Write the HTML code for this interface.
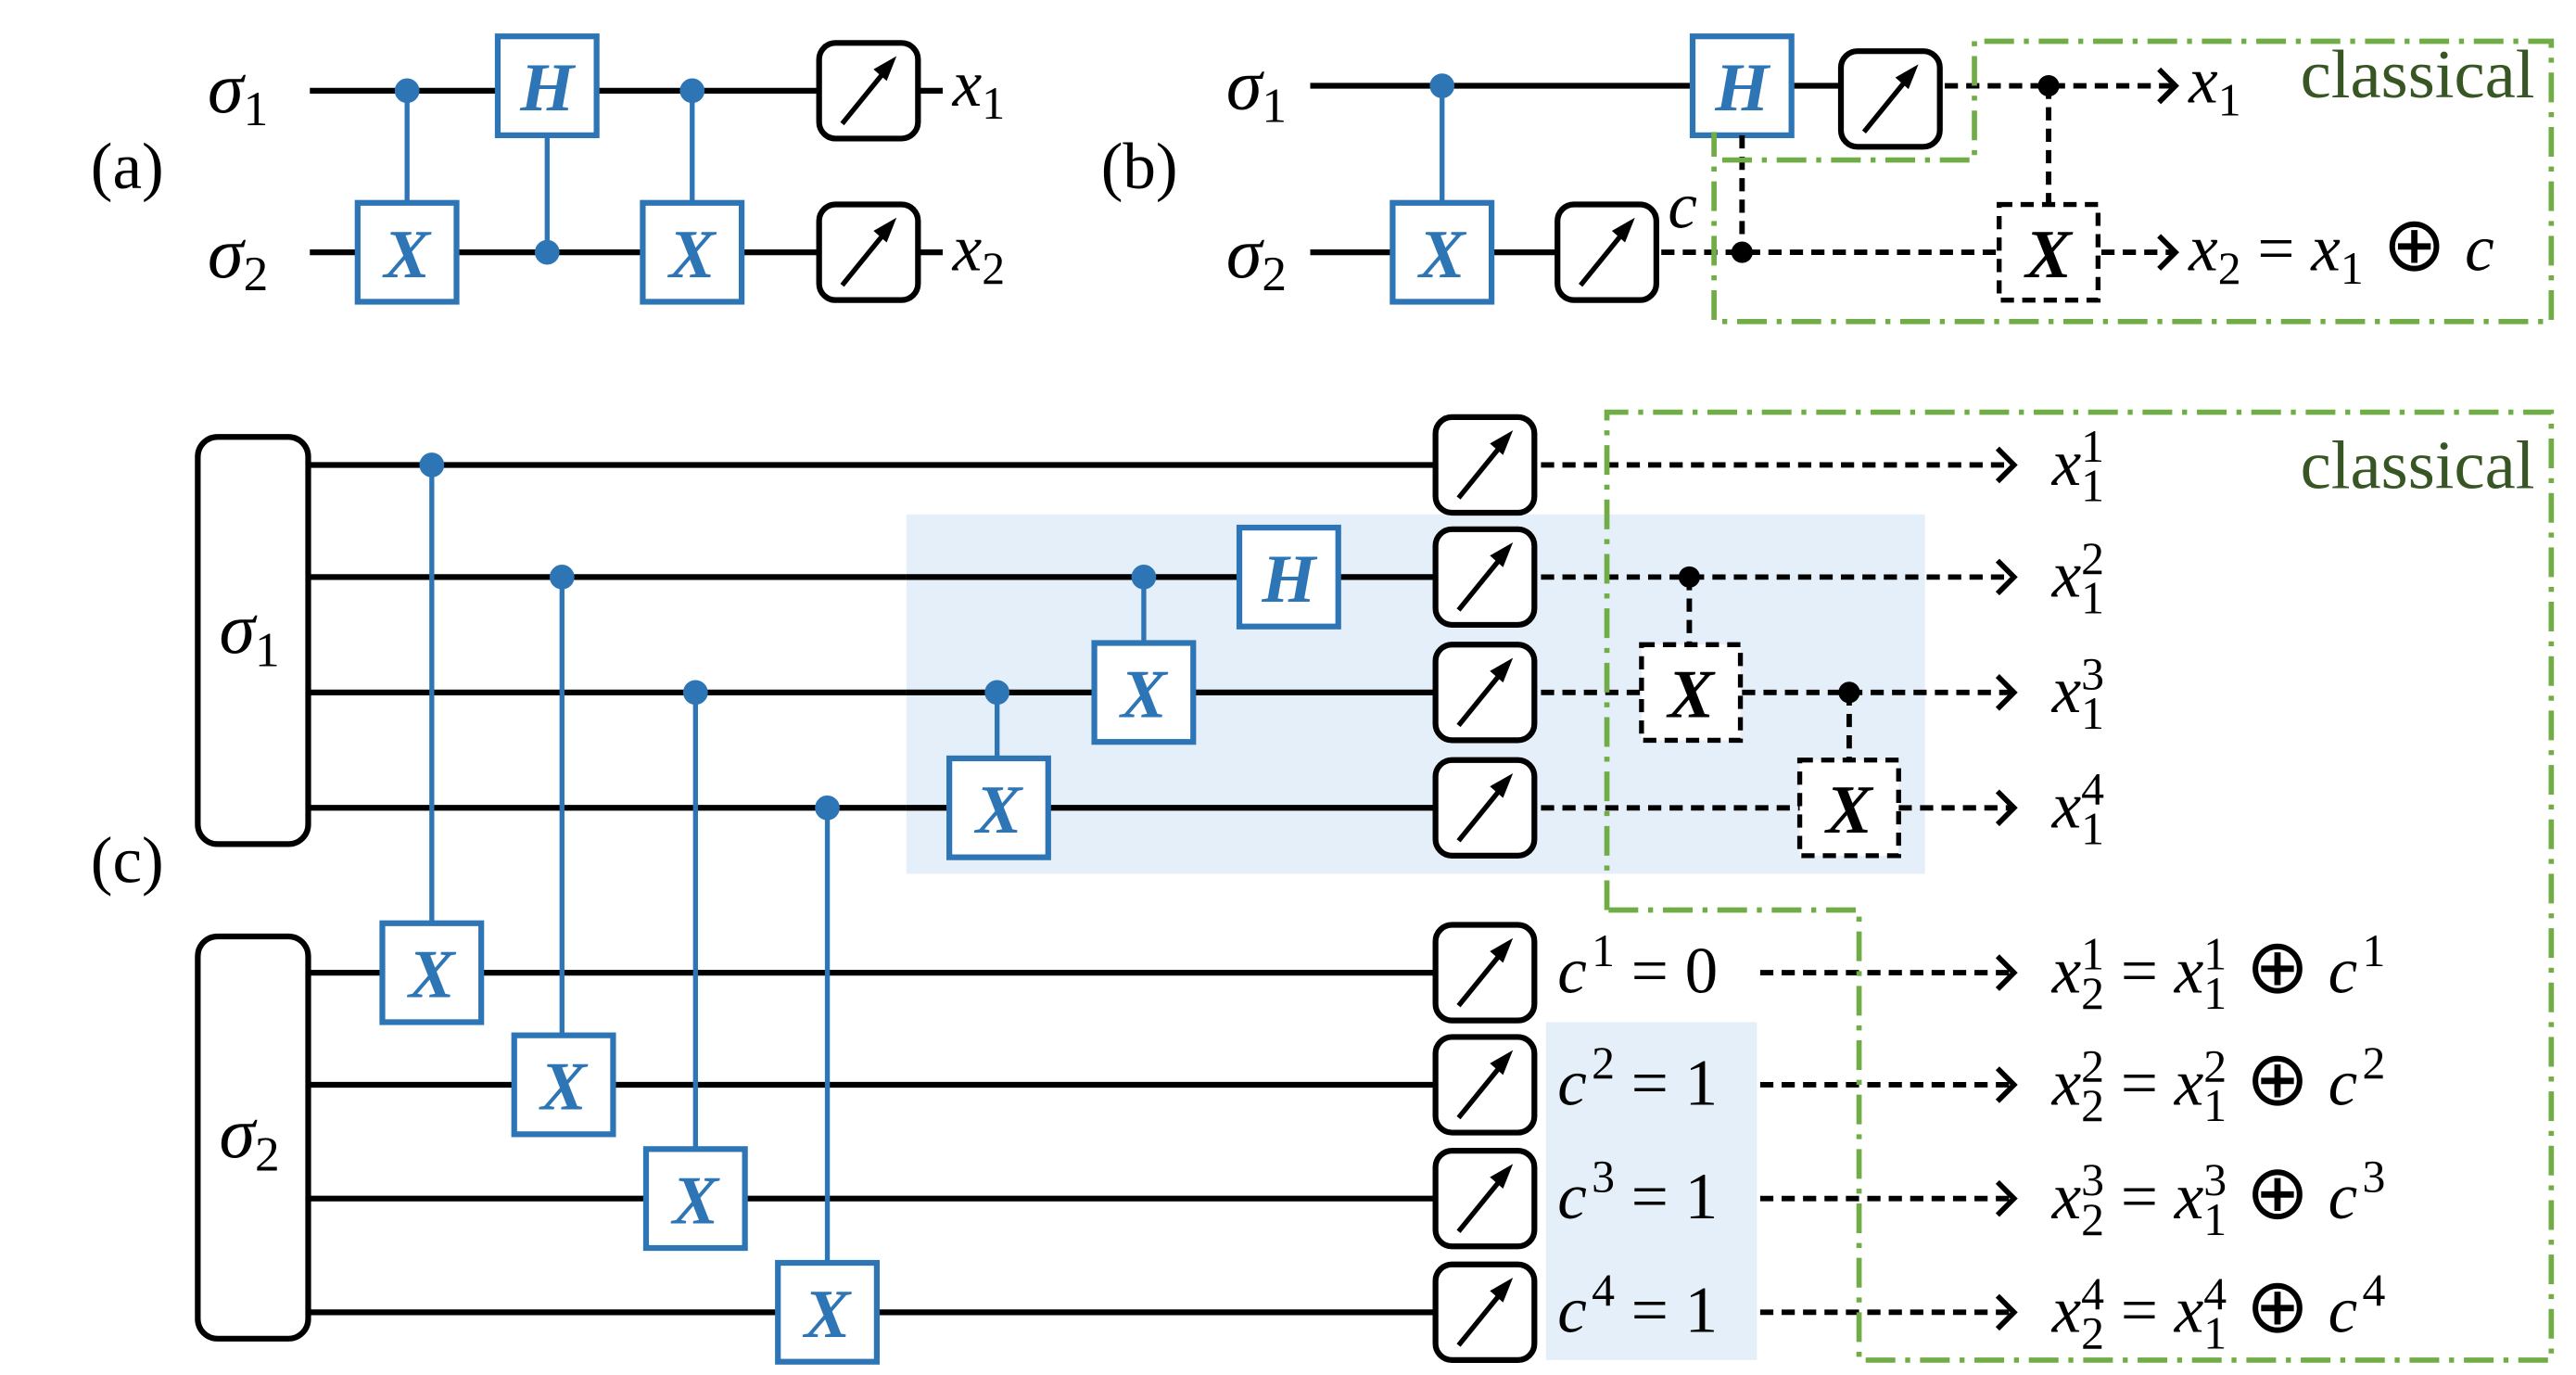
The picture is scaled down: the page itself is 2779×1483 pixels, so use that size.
<!DOCTYPE html>
<html><head><meta charset="utf-8"><style>
html,body{margin:0;padding:0;background:#fff}
svg{display:block}
text{font-family:"Liberation Serif",serif}
.it{font-style:italic}
.g{font-weight:bold;font-style:italic;fill:#2e75b6;font-size:42px}
.gb{font-weight:bold;font-style:italic;fill:#000;font-size:42px}
.n{font-style:normal}
</style></head><body>
<svg width="2779" height="1483" viewBox="0 0 1563 834" xmlns="http://www.w3.org/2000/svg">
<defs>
<g id="m"><rect x="-30" y="-29" width="60" height="58" rx="10" fill="#fff" stroke="#000" stroke-width="3.5"/>
<line x1="-16" y1="20" x2="10" y2="-12" stroke="#000" stroke-width="3"/>
<polygon points="17,-21 3,-13 11,-6" fill="#000"/></g>
<g id="xb"><rect x="-30" y="-30" width="60" height="60" fill="#fff" stroke="#2e75b6" stroke-width="3.5"/></g>
<g id="xd"><rect x="-30" y="-29" width="60" height="58" fill="#fff" stroke="#000" stroke-width="3" stroke-dasharray="8,5"/></g>
<g id="ar"><polyline points="-10,-10 0,0 -10,10" fill="none" stroke="#000" stroke-width="3.2"/></g>
</defs>
<g stroke="#000" stroke-width="3.5">
<line x1="188" y1="55" x2="572" y2="55"/><line x1="188" y1="153" x2="572" y2="153"/>
<line x1="795" y1="52" x2="1117" y2="52"/><line x1="795" y1="153" x2="945" y2="153"/>
<line x1="187" y1="282" x2="870" y2="282"/><line x1="187" y1="350" x2="870" y2="350"/>
<line x1="187" y1="420" x2="870" y2="420"/><line x1="187" y1="490" x2="870" y2="490"/>
<line x1="187" y1="590" x2="870" y2="590"/><line x1="187" y1="658" x2="870" y2="658"/>
<line x1="187" y1="727" x2="870" y2="727"/><line x1="187" y1="796" x2="870" y2="796"/>
</g>
<rect x="550" y="312" width="618" height="218" fill="#deebf7" opacity="0.8"/>
<rect x="938" y="620" width="128" height="205" fill="#deebf7" opacity="0.8"/>
<g stroke="#000" stroke-width="3.5">
<line x1="550" y1="350" x2="870" y2="350"/><line x1="550" y1="420" x2="870" y2="420"/><line x1="550" y1="490" x2="870" y2="490"/>
</g>
<g stroke="#2e75b6" stroke-width="3" fill="#2e75b6">
<line x1="247" y1="55" x2="247" y2="122"/><circle cx="247" cy="55" r="6"/>
<line x1="332" y1="82" x2="332" y2="153"/><circle cx="332" cy="153" r="6"/>
<line x1="420" y1="55" x2="420" y2="122"/><circle cx="420" cy="55" r="6"/>
<line x1="875" y1="52" x2="875" y2="122"/><circle cx="875" cy="52" r="6"/>
<line x1="262" y1="282" x2="262" y2="560"/><circle cx="262" cy="282" r="6"/>
<line x1="341" y1="350" x2="341" y2="628"/><circle cx="341" cy="350" r="6"/>
<line x1="422" y1="420" x2="422" y2="697"/><circle cx="422" cy="420" r="6"/>
<line x1="502" y1="490" x2="502" y2="766"/><circle cx="502" cy="490" r="6"/>
<line x1="605" y1="420" x2="605" y2="460"/><circle cx="605" cy="420" r="6"/>
<line x1="694" y1="350" x2="694" y2="390"/><circle cx="694" cy="350" r="6"/>
</g>
<use href="#xb" x="247" y="153"/><text class="g" x="247" y="168" text-anchor="middle">X</text>
<use href="#xb" x="332" y="52"/><text class="g" x="332" y="67" text-anchor="middle">H</text>
<use href="#xb" x="420" y="153"/><text class="g" x="420" y="168" text-anchor="middle">X</text>
<use href="#xb" x="875" y="153"/><text class="g" x="875" y="168" text-anchor="middle">X</text>
<use href="#xb" x="1057" y="52"/><text class="g" x="1057" y="67" text-anchor="middle">H</text>
<use href="#xb" x="262" y="590"/><text class="g" x="262" y="605" text-anchor="middle">X</text>
<use href="#xb" x="342" y="658"/><text class="g" x="342" y="673" text-anchor="middle">X</text>
<use href="#xb" x="422" y="727"/><text class="g" x="422" y="742" text-anchor="middle">X</text>
<use href="#xb" x="502" y="796"/><text class="g" x="502" y="811" text-anchor="middle">X</text>
<use href="#xb" x="606" y="490"/><text class="g" x="606" y="505" text-anchor="middle">X</text>
<use href="#xb" x="694" y="420"/><text class="g" x="694" y="435" text-anchor="middle">X</text>
<use href="#xb" x="782" y="350"/><text class="g" x="782" y="365" text-anchor="middle">H</text>
<use href="#m" x="527" y="55"/><use href="#m" x="527" y="153"/>
<use href="#m" x="1147" y="60"/><use href="#m" x="975" y="153"/>
<use href="#m" x="901" y="282"/><use href="#m" x="901" y="350"/><use href="#m" x="901" y="420"/><use href="#m" x="901" y="490"/>
<use href="#m" x="901" y="590"/><use href="#m" x="901" y="658"/><use href="#m" x="901" y="727"/><use href="#m" x="901" y="796"/>
<rect x="120" y="265" width="67" height="247" rx="12" fill="#fff" stroke="#000" stroke-width="3.5"/>
<rect x="120" y="568" width="67" height="244" rx="12" fill="#fff" stroke="#000" stroke-width="3.5"/>
<g stroke="#000" stroke-width="3.3" stroke-dasharray="8,5" fill="none">
<line x1="1180" y1="52" x2="1318" y2="52"/>
<line x1="1008" y1="153" x2="1212" y2="153"/>
<line x1="1275" y1="153" x2="1318" y2="153"/>
<line x1="1057" y1="82" x2="1057" y2="153"/>
<line x1="1243" y1="52" x2="1243" y2="123"/>
<line x1="935" y1="282" x2="1220" y2="282"/>
<line x1="935" y1="350" x2="1220" y2="350"/>
<line x1="935" y1="420" x2="995" y2="420"/><line x1="1057" y1="420" x2="1220" y2="420"/>
<line x1="935" y1="490" x2="1092" y2="490"/><line x1="1152" y1="490" x2="1220" y2="490"/>
<line x1="1025" y1="350" x2="1025" y2="391"/>
<line x1="1122" y1="420" x2="1122" y2="461"/>
<line x1="1068" y1="590" x2="1220" y2="590"/>
<line x1="1068" y1="658" x2="1220" y2="658"/>
<line x1="1068" y1="727" x2="1220" y2="727"/>
<line x1="1068" y1="796" x2="1220" y2="796"/>
</g>
<g fill="#000"><circle cx="1243" cy="52" r="6.5"/><circle cx="1057" cy="153" r="6.5"/><circle cx="1025" cy="350" r="6.5"/><circle cx="1122" cy="420" r="6.5"/></g>
<use href="#xd" x="1243" y="153"/><text class="gb" x="1243" y="168" text-anchor="middle">X</text>
<use href="#xd" x="1026" y="420"/><text class="gb" x="1026" y="435" text-anchor="middle">X</text>
<use href="#xd" x="1122" y="490"/><text class="gb" x="1122" y="505" text-anchor="middle">X</text>
<use href="#ar" x="1320" y="52"/><use href="#ar" x="1320" y="153"/>
<use href="#ar" x="1222" y="282"/><use href="#ar" x="1222" y="350"/><use href="#ar" x="1222" y="420"/><use href="#ar" x="1222" y="490"/>
<use href="#ar" x="1222" y="590"/><use href="#ar" x="1222" y="658"/><use href="#ar" x="1222" y="727"/><use href="#ar" x="1222" y="796"/>
<g stroke="#70ad47" stroke-width="3.2" fill="none" stroke-dasharray="18,6,3,6">
<polyline points="1045,97 1198,97 1198,25 1548,25 1548,195 1040,195 1040,80"/>
<polyline points="975,552 975,250 1548,250 1548,825 1128,825 1128,552 975,552"/>
</g>
<g fill="#375623" font-size="42"><text x="1538" y="59" text-anchor="end">classical</text><text x="1538" y="296" text-anchor="end">classical</text></g>
<g font-size="40">
<text x="55" y="114">(a)</text><text x="668" y="114">(b)</text><text x="55" y="535">(c)</text>
</g>
<g font-size="44">
<text class="it" x="126" y="68">σ<tspan font-size="30" class="n" dy="8">1</tspan></text>
<text class="it" x="126" y="168">σ<tspan font-size="30" class="n" dy="8">2</tspan></text>
<text class="it" x="744" y="66">σ<tspan font-size="30" class="n" dy="8">1</tspan></text>
<text class="it" x="744" y="168">σ<tspan font-size="30" class="n" dy="8">2</tspan></text>
<text class="it" x="133" y="396">σ<tspan font-size="30" class="n" dy="8">1</tspan></text>
<text class="it" x="133" y="702">σ<tspan font-size="30" class="n" dy="8">2</tspan></text>
</g>
<g font-size="40">
<text class="it" x="578" y="64">x<tspan font-size="28" class="n" dy="8">1</tspan></text>
<text class="it" x="578" y="164">x<tspan font-size="28" class="n" dy="8">2</tspan></text>
<text class="it" x="1328" y="62">x<tspan font-size="28" class="n" dy="8">1</tspan></text>
<text class="it" x="1328" y="164">x<tspan font-size="28" class="n" dy="8">2</tspan><tspan class="n" dy="-8"> = </tspan>x<tspan font-size="28" class="n" dy="8">1</tspan><tspan class="n" dy="-8" font-size="46"> ⊕ </tspan>c</text>
<text class="it" x="1012" y="138">c</text>
</g>
<g font-size="40">
<text class="it" x="1245" y="294">x<tspan font-size="28" class="n" dy="10">1</tspan><tspan font-size="28" class="n" dx="-14" dy="-24">1</tspan></text>
<text class="it" x="1245" y="362">x<tspan font-size="28" class="n" dy="10">1</tspan><tspan font-size="28" class="n" dx="-14" dy="-24">2</tspan></text>
<text class="it" x="1245" y="432">x<tspan font-size="28" class="n" dy="10">1</tspan><tspan font-size="28" class="n" dx="-14" dy="-24">3</tspan></text>
<text class="it" x="1245" y="502">x<tspan font-size="28" class="n" dy="10">1</tspan><tspan font-size="28" class="n" dx="-14" dy="-24">4</tspan></text>
<text class="it" x="945" y="602">c<tspan font-size="28" class="n" dx="3" dy="-16">1</tspan><tspan class="n" dy="16"> = 0</tspan></text>
<text class="it" x="945" y="670">c<tspan font-size="28" class="n" dx="3" dy="-16">2</tspan><tspan class="n" dy="16"> = 1</tspan></text>
<text class="it" x="945" y="739">c<tspan font-size="28" class="n" dx="3" dy="-16">3</tspan><tspan class="n" dy="16"> = 1</tspan></text>
<text class="it" x="945" y="808">c<tspan font-size="28" class="n" dx="3" dy="-16">4</tspan><tspan class="n" dy="16"> = 1</tspan></text>
<text class="it" x="1245" y="602">x<tspan font-size="28" class="n" dy="10">2</tspan><tspan font-size="28" class="n" dx="-14" dy="-24">1</tspan><tspan class="n" dy="14"> = </tspan>x<tspan font-size="28" class="n" dy="10">1</tspan><tspan font-size="28" class="n" dx="-14" dy="-24">1</tspan><tspan class="n" dy="14" font-size="46"> ⊕ </tspan>c<tspan font-size="28" class="n" dx="3" dy="-16">1</tspan></text>
<text class="it" x="1245" y="670">x<tspan font-size="28" class="n" dy="10">2</tspan><tspan font-size="28" class="n" dx="-14" dy="-24">2</tspan><tspan class="n" dy="14"> = </tspan>x<tspan font-size="28" class="n" dy="10">1</tspan><tspan font-size="28" class="n" dx="-14" dy="-24">2</tspan><tspan class="n" dy="14" font-size="46"> ⊕ </tspan>c<tspan font-size="28" class="n" dx="3" dy="-16">2</tspan></text>
<text class="it" x="1245" y="739">x<tspan font-size="28" class="n" dy="10">2</tspan><tspan font-size="28" class="n" dx="-14" dy="-24">3</tspan><tspan class="n" dy="14"> = </tspan>x<tspan font-size="28" class="n" dy="10">1</tspan><tspan font-size="28" class="n" dx="-14" dy="-24">3</tspan><tspan class="n" dy="14" font-size="46"> ⊕ </tspan>c<tspan font-size="28" class="n" dx="3" dy="-16">3</tspan></text>
<text class="it" x="1245" y="808">x<tspan font-size="28" class="n" dy="10">2</tspan><tspan font-size="28" class="n" dx="-14" dy="-24">4</tspan><tspan class="n" dy="14"> = </tspan>x<tspan font-size="28" class="n" dy="10">1</tspan><tspan font-size="28" class="n" dx="-14" dy="-24">4</tspan><tspan class="n" dy="14" font-size="46"> ⊕ </tspan>c<tspan font-size="28" class="n" dx="3" dy="-16">4</tspan></text>
</g>
</svg>
</body></html>
